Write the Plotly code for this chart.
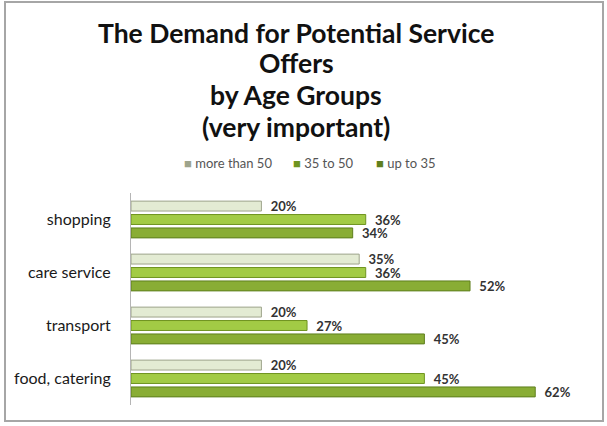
import plotly.graph_objects as go

categories = ["shopping", "care service", "transport", "food, catering"]
series_names = ["more than 50", "35 to 50", "up to 35"]
more_than_50 = [20, 35, 20, 20]
age_35_to_50 = [36, 36, 27, 45]
up_to_35 = [34, 52, 45, 62]
title_lines = ["The Demand for Potential Service", "Offers", "by Age Groups", "(very important)"]

series_values = [more_than_50, age_35_to_50, up_to_35]
fills = ["#e3ebd3", "#a2cb45", "#89ad35"]
edges = ["#9ea48c", "#6f9420", "#5f7f1e"]

L, R, T, B = 131, 17, 193, 21
W, H = 607, 426
pw, ph = W - L - R, H - T - B

def px2x(px):
    return (px - L) / pw

def py2y(py):
    return (H - B - py) / ph

fig = go.Figure()
for name, vals, fc, ec in zip(series_names, series_values, fills, edges):
    fig.add_trace(go.Bar(
        y=categories, x=vals, name=name, orientation="h",
        marker=dict(color=fc, line=dict(color=ec, width=1)),
        text=[f"  {v}%" for v in vals], textposition="outside",
        constraintext="none",
        textfont=dict(family="Lato", size=13, color="#333333", weight="bold"),
        cliponaxis=False, showlegend=False,
    ))

# frame
fig.add_shape(type="rect", xref="paper", yref="paper",
              x0=px2x(5), x1=px2x(603), y0=py2y(421), y1=py2y(2),
              line=dict(color="#a6a6a6", width=2), fillcolor="rgba(0,0,0,0)", layer="below")

# title lines
title_y = [33, 63, 95, 127]
for txt, yy in zip(title_lines, title_y):
    fig.add_annotation(text=txt, xref="paper", yref="paper", x=px2x(296), y=py2y(yy),
                       xanchor="center", yanchor="middle", showarrow=False,
                       font=dict(family="Lato", size=26.5, color="#111111", weight="bold"))

# legend
leg_x = [182, 291, 374]
for name, fc, ec, lx in zip(series_names, fills, edges, leg_x):
    fig.add_annotation(
        text=f"<span style='color:{ec}'>■</span> {name}",
        xref="paper", yref="paper", x=px2x(lx), y=py2y(163),
        xanchor="left", yanchor="middle", showarrow=False,
        font=dict(family="Lato", size=13, color="#555555"))

fig.update_layout(
    width=W, height=H,
    margin=dict(l=L, r=R, t=T, b=B),
    paper_bgcolor="white", plot_bgcolor="white",
    barmode="group", bargap=0.24, bargroupgap=0.26,
    showlegend=False,
    xaxis=dict(range=[0, 70.4], showgrid=False, zeroline=False, showticklabels=False, showline=False),
    yaxis=dict(autorange="reversed", showline=True, linecolor="#b5b5b5", linewidth=1,
               ticks="", tickfont=dict(family="Lato", size=16, color="#1a1a1a"),
               ticklabelstandoff=16),
)

fig.write_html("out.html")
